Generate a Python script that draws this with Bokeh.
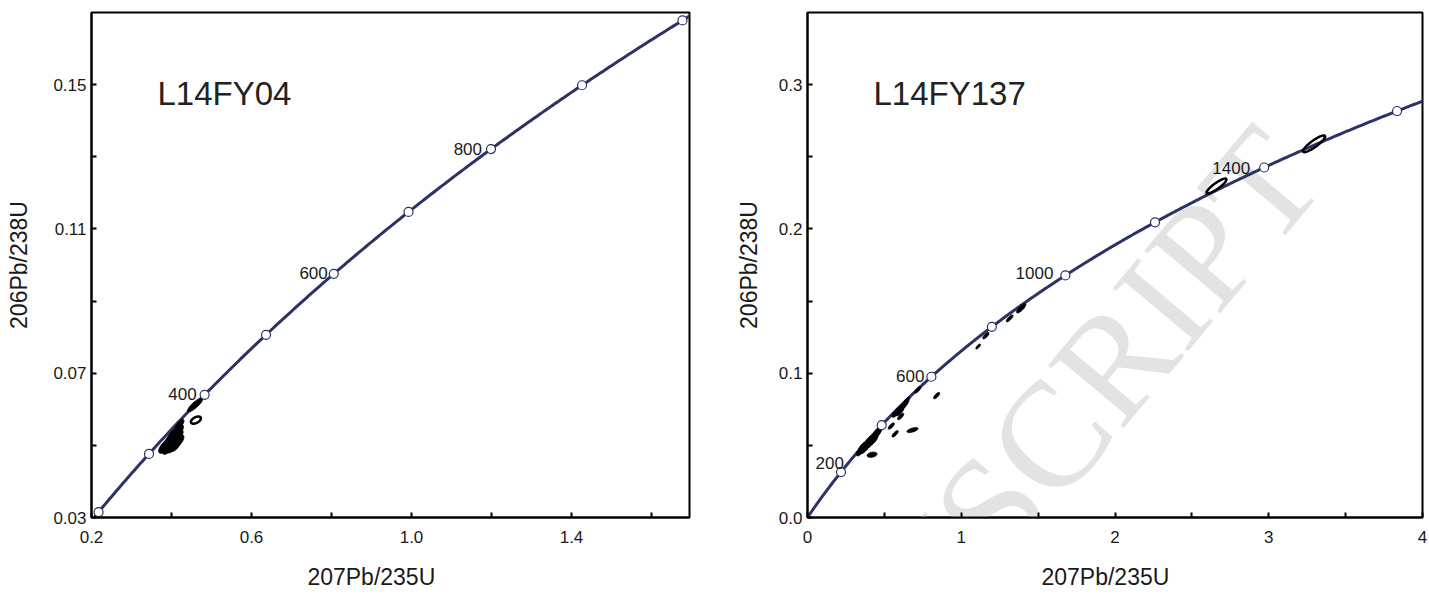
import numpy as np
from bokeh.plotting import figure
from bokeh.layouts import row
from bokeh.models import FixedTicker, PrintfTickFormatter, Label, Range1d
from bokeh.embed import file_html
from bokeh.resources import INLINE
from bokeh.core.properties import value

# decay constants (per Ma)
L238 = 1.55125e-4
L235 = 9.8485e-4

# ---------------- data: left panel ----------------
left_title = "L14FY04"
left_marker_ages = [200, 300, 400, 500, 600, 700, 800, 900, 1000]
left_label_ages = [400, 600, 800]
left_x_ticks = [0.2, 0.6, 1.0, 1.4]
left_x_minor = [0.4, 0.8, 1.2, 1.6]
left_y_ticks = [0.03, 0.07, 0.11, 0.15]
left_y_minor = [0.05, 0.09, 0.13]
left_ell_x = [0.382, 0.392, 0.402, 0.410, 0.390, 0.400, 0.410, 0.418, 0.398, 0.408,
              0.416, 0.412, 0.419, 0.418, 0.422, 0.386, 0.404, 0.395,
              0.459, 0.461]
left_ell_y = [0.0496, 0.0494, 0.0497, 0.0500, 0.0505, 0.0508, 0.0512, 0.0512, 0.0518, 0.0522,
              0.0526, 0.0535, 0.0542, 0.0553, 0.0560, 0.0500, 0.0530, 0.0500,
              0.0612, 0.0570]
left_ell_ex = [0.014, 0.015, 0.014, 0.013, 0.015, 0.015, 0.014, 0.013, 0.014, 0.014,
               0.013, 0.012, 0.011, 0.010, 0.009, 0.014, 0.013, 0.015,
               0.019, 0.0125]
left_ell_ey = [0.0018, 0.0019, 0.0018, 0.0017, 0.0019, 0.0019, 0.0018, 0.0017, 0.0018, 0.0018,
               0.0017, 0.0016, 0.0015, 0.0013, 0.0012, 0.0018, 0.0017, 0.0019,
               0.0019, 0.0010]
left_ell_rho = [0.65] * 18 + [0.85, 0.5]
left_ell_filled = [True] * 19 + [False]

# ---------------- data: right panel ----------------
right_title = "L14FY137"
right_marker_ages = [200, 400, 600, 800, 1000, 1200, 1400, 1600]
right_label_ages = [200, 600, 1000, 1400]
right_x_ticks = [0, 1, 2, 3, 4]
right_x_minor = [0.5, 1.5, 2.5, 3.5]
right_y_ticks = [0.0, 0.1, 0.2, 0.3]
right_y_minor = [0.05, 0.15, 0.25]
right_ell_x = [0.345, 0.355, 0.365, 0.375, 0.385, 0.395, 0.405, 0.415, 0.425, 0.437,
               0.448, 0.458, 0.370, 0.390, 0.410, 0.430, 0.360, 0.400, 0.420,
               0.545, 0.570, 0.606, 0.683, 0.575, 0.590, 0.605, 0.620, 0.600, 0.635,
               0.645, 0.716, 0.840, 1.110, 1.160, 1.315, 1.390, 2.660, 3.295]
right_ell_y = [0.0462, 0.0472, 0.0484, 0.0494, 0.0504, 0.0514, 0.0526, 0.0536, 0.0548, 0.0562,
               0.0578, 0.0595, 0.0478, 0.0500, 0.0520, 0.0540, 0.0490, 0.0530, 0.0435,
               0.0634, 0.0580, 0.0700, 0.0606, 0.0725, 0.0740, 0.0755, 0.0770, 0.0735, 0.0790,
               0.0810, 0.0884, 0.0845, 0.1185, 0.1260, 0.1380, 0.1450, 0.2297, 0.2590]
right_ell_ex = [0.028] * 18 + [0.032,
                0.020, 0.020, 0.020, 0.036, 0.026, 0.026, 0.026, 0.026, 0.026, 0.024,
                0.020, 0.020, 0.020, 0.015, 0.020, 0.022, 0.030, 0.065, 0.072]
right_ell_ey = [0.0035] * 18 + [0.0018,
                0.0022, 0.0022, 0.0022, 0.0017, 0.0030, 0.0030, 0.0030, 0.0030, 0.0030, 0.0028,
                0.0022, 0.0022, 0.0022, 0.0017, 0.0022, 0.0024, 0.0032, 0.0052, 0.0058]
right_ell_rho = [0.7] * 18 + [0.3,
                 0.75, 0.75, 0.75, 0.6, 0.7, 0.7, 0.7, 0.7, 0.7, 0.7,
                 0.75, 0.75, 0.75, 0.75, 0.75, 0.8, 0.8, 0.88, 0.88]
right_ell_filled = [True] * 36 + [False, False]

x_title = "207Pb/235U"
y_title = "206Pb/238U"
watermark = "MANUSCRIPT"

# ---------------- helpers ----------------
CURVE = "#2d3264"
TXT = "#1a1a1a"
FONT = "Liberation Sans"
NBSP = "\u00a0"


def concordia(t):
    t = np.asarray(t, dtype=float)
    return np.exp(L235 * t) - 1.0, np.exp(L238 * t) - 1.0


def ellipse_paths(xs, ys, exs, eys, rhos):
    th = np.linspace(0, 2 * np.pi, 64)
    px, py = [], []
    for cx, cy, ex, ey, r in zip(xs, ys, exs, eys, rhos):
        px.append(list(cx + ex * np.cos(th)))
        py.append(list(cy + ey * (r * np.cos(th) + np.sqrt(1 - r * r) * np.sin(th))))
    return px, py


def make_panel(width, xr, yr, mb_left, mb_right, xt, xm, yt, ym, xfmt, yfmt,
               ylab_standoff, ages, lab_ages, lab_offsets, ex_, ey_, eex, eey, erho, efill,
               title, title_xy, xtitle_pad):
    p = figure(width=width, height=596, x_range=Range1d(*xr), y_range=Range1d(*yr),
               min_border_left=mb_left, min_border_right=mb_right, min_border_top=12,
               min_border_bottom=79, output_backend="svg", toolbar_location=None)
    p.title.visible = False
    p.grid.visible = False
    p.outline_line_color = "black"
    p.outline_line_width = 2
    p.background_fill_color = "white"
    p.border_fill_color = "white"

    p.xaxis.ticker = FixedTicker(ticks=xt, minor_ticks=xm)
    p.yaxis.ticker = FixedTicker(ticks=yt, minor_ticks=ym)
    p.xaxis.formatter = PrintfTickFormatter(format=xfmt)
    p.yaxis.formatter = PrintfTickFormatter(format=yfmt)
    for ax in (p.xaxis[0], p.yaxis[0]):
        ax.axis_line_width = 2
        ax.axis_line_color = "black"
        ax.major_tick_in = 5
        ax.major_tick_out = 0
        ax.minor_tick_in = 5
        ax.minor_tick_out = 0
        ax.major_tick_line_width = 2
        ax.minor_tick_line_width = 2
        ax.major_tick_line_color = "black"
        ax.minor_tick_line_color = "black"
        ax.major_label_text_font = FONT
        ax.major_label_text_font_size = "17px"
        ax.major_label_text_color = TXT
        ax.axis_label_text_font = FONT
        ax.axis_label_text_font_size = "23px"
        ax.axis_label_text_font_style = "normal"
        ax.axis_label_text_color = TXT
    p.xaxis.major_label_standoff = 13
    p.yaxis.major_label_standoff = 5
    p.yaxis.axis_label = y_title
    p.yaxis.axis_label_standoff = ylab_standoff
    # x title; trailing no-break spaces nudge it left of the frame centre as in the source
    p.xaxis.axis_label = x_title + NBSP * xtitle_pad
    p.xaxis.axis_label_standoff = 18

    # concordia curve
    t = np.linspace(0, 2000, 600)
    cx, cy = concordia(t)
    p.line(cx, cy, line_color=CURVE, line_width=3)

    # error ellipses
    px, py = ellipse_paths(ex_, ey_, eex, eey, erho)
    fx = [a for a, f in zip(px, efill) if f]
    fy = [a for a, f in zip(py, efill) if f]
    ox = [a for a, f in zip(px, efill) if not f]
    oy = [a for a, f in zip(py, efill) if not f]
    if fx:
        p.patches(fx, fy, fill_color="black", line_color="black", line_width=1)
    if ox:
        p.patches(ox, oy, fill_color=None, line_color="black", line_width=2.5)

    # age markers
    mx, my = concordia(ages)
    p.scatter(mx, my, size=9, marker="circle", fill_color="white",
              line_color=CURVE, line_width=1.2)

    # age labels
    lx, ly = concordia(lab_ages)
    for x0, y0, a, (dx, dy) in zip(lx, ly, lab_ages, lab_offsets):
        p.text([x0], [y0], text=[str(a)], text_align="right", text_baseline="alphabetic",
               x_offset=dx, y_offset=dy, text_font=value(FONT), text_font_size="17px",
               text_color=TXT)

    p.add_layout(Label(x=title_xy[0], y=title_xy[1], text=title, text_font=FONT,
                       text_font_size="33px", text_color="#222222",
                       text_baseline="alphabetic", text_align="left"))
    return p


p1 = make_panel(720, (0.2, 1.695), (0.03, 0.17), 91, 31,
                left_x_ticks, left_x_minor, left_y_ticks, left_y_minor, "%.1f", "%.2f", 18,
                left_marker_ages, left_label_ages, [(-8, -1), (-6, -1), (-9, 0)],
                left_ell_x, left_ell_y, left_ell_ex, left_ell_ey, left_ell_rho, left_ell_filled,
                left_title, (0.365, 0.1475), 6)

p2 = make_panel(709, (0.0, 4.0), (0.0, 0.35), 87, 7,
                right_x_ticks, right_x_minor, right_y_ticks, right_y_minor, "%d", "%.1f", 14,
                right_marker_ages, right_label_ages, [(3, -9), (-7, -1), (-12, -2), (-14, 0)],
                right_ell_x, right_ell_y, right_ell_ex, right_ell_ey, right_ell_rho, right_ell_filled,
                right_title, (0.429, 0.2938), 3)

p2.add_layout(Label(x=3.139, y=0.2545, text=watermark, angle=0.873, text_align="right",
                    text_baseline="middle", text_font="Liberation Serif",
                    text_font_size="150px", text_color="#e3e3e3", level="underlay"))

layout = row(p1, p2)
open("out.html", "w").write(file_html(layout, INLINE))
